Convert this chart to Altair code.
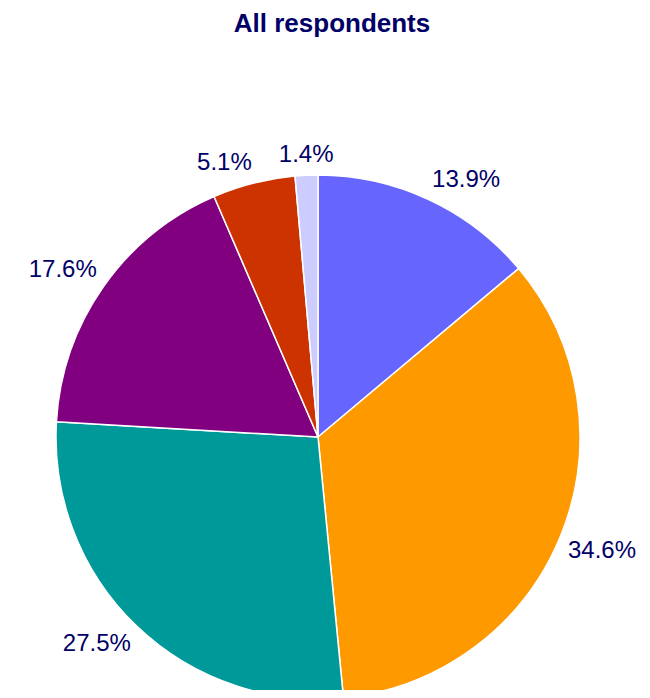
import math
import altair as alt
import pandas as pd

# ---- data ----
categories = ["Group 1", "Group 2", "Group 3", "Group 4", "Group 5", "Group 6"]
values = [13.9, 34.6, 27.5, 17.6, 5.1, 1.4]
colors = ["#6666FF", "#FF9900", "#009999", "#800080", "#CC3300", "#CCCCFF"]
title_text = "All respondents"

# ---- layout constants (style) ----
W, H = 634, 682            # whole svg
CX, CY = 310, 429          # pie centre
R = 262                    # pie radius
GAP = 8                    # gap between pie edge and label box
FS = 24                    # label font size
NAVY = "#000066"

def text_width(s, fs):
    em = {"%": 0.889, ".": 0.278}
    return sum(em.get(c, 0.556) for c in s) * fs

def sgn(v, dead=0.1):
    return 0 if abs(v) < dead else (1 if v > 0 else -1)

total = sum(values)
rows = []
cum = 0.0
for i, (c, v) in enumerate(zip(categories, values)):
    mid = (cum + v / 2) / total * 2 * math.pi
    cum += v
    lab = f"{v}%"
    w, h = text_width(lab, FS), FS
    ax = CX + (R + GAP) * math.sin(mid)
    ay = CY - (R + GAP) * math.cos(mid)
    lx = ax + sgn(math.sin(mid)) * w / 2
    ly = ay - sgn(math.cos(mid)) * h / 2
    lx = min(max(lx, w / 2 + 2), W - w / 2 - 2)   # keep inside the canvas
    rows.append({"category": c, "value": v, "order": i, "label": lab, "lx": lx, "ly": ly})

df = pd.DataFrame(rows)

color = alt.Color("category:N", scale=alt.Scale(domain=categories, range=colors), legend=None)

pie = alt.Chart(df).mark_arc(outerRadius=R, stroke="white", strokeWidth=1.5).encode(
    theta=alt.Theta("value:Q", stack=True),
    order=alt.Order("order:Q"),
    color=color,
    x=alt.value(CX),
    y=alt.value(CY),
)

labels = alt.Chart(df).mark_text(
    font="Liberation Sans", fontSize=FS, color=NAVY, align="center", baseline="middle"
).encode(
    x=alt.X("lx:Q", scale=None, axis=None),
    y=alt.Y("ly:Q", scale=None, axis=None),
    text="label:N",
)

title = alt.Chart(pd.DataFrame({"t": [title_text]})).mark_text(
    font="Liberation Sans", fontSize=26, fontWeight="bold", color=NAVY,
    align="center", baseline="middle"
).encode(x=alt.value(324), y=alt.value(16), text="t:N")

chart = alt.layer(pie, labels, title).properties(
    width=W, height=H,
    autosize=alt.AutoSizeParams(type="none"),
    padding=0,
).configure(
    background="white",
    view=alt.ViewConfig(stroke="transparent", strokeWidth=0),
)

chart.save("out.html", embed_options={"renderer": "svg", "actions": False})
